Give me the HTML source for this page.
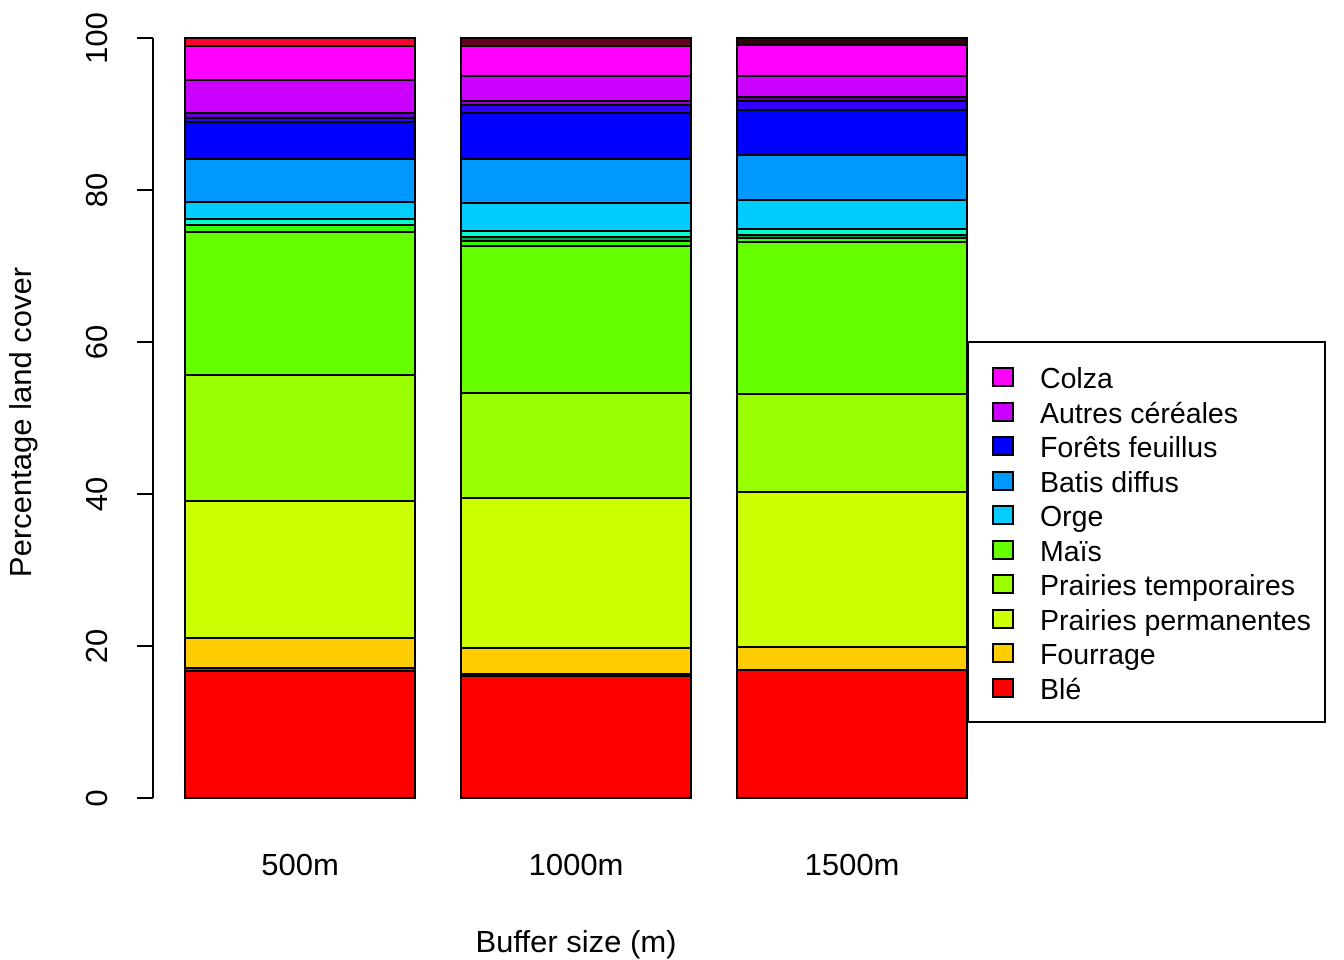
<!DOCTYPE html>
<html><head><meta charset="utf-8"><style>body{margin:0;background:#fff}svg{display:block}text{font-family:"Liberation Sans",sans-serif;fill:#000}</style></head><body>
<svg width="1344" height="960" viewBox="0 0 1344 960" xmlns="http://www.w3.org/2000/svg">
<g stroke="#000" stroke-width="2">
<rect x="185" y="38" width="230" height="8" fill="#FF0033"/>
<rect x="185" y="46" width="230" height="34" fill="#FF00FF"/>
<rect x="185" y="80" width="230" height="33" fill="#CC00FF"/>
<rect x="185" y="113" width="230" height="5" fill="#6600CC"/>
<rect x="185" y="118" width="230" height="4" fill="#3300FF"/>
<rect x="185" y="122" width="230" height="37" fill="#0000FF"/>
<rect x="185" y="159" width="230" height="43" fill="#0099FF"/>
<rect x="185" y="202" width="230" height="17" fill="#00CCFF"/>
<rect x="185" y="219" width="230" height="6" fill="#00FFCC"/>
<rect x="185" y="225" width="230" height="7" fill="#33FF00"/>
<rect x="185" y="232" width="230" height="143" fill="#66FF00"/>
<rect x="185" y="375" width="230" height="126" fill="#99FF00"/>
<rect x="185" y="501" width="230" height="137" fill="#CCFF00"/>
<rect x="185" y="638" width="230" height="30" fill="#FFCC00"/>
<rect x="185" y="668" width="230" height="3" fill="#CC3300"/>
<rect x="185" y="671" width="230" height="127" fill="#FF0000"/>
<rect x="461" y="38" width="230" height="8" fill="#660022"/>
<rect x="461" y="46" width="230" height="30" fill="#FF00FF"/>
<rect x="461" y="76" width="230" height="25" fill="#CC00FF"/>
<rect x="461" y="101" width="230" height="4" fill="#9900CC"/>
<rect x="461" y="105" width="230" height="8" fill="#3300FF"/>
<rect x="461" y="113" width="230" height="46" fill="#0000FF"/>
<rect x="461" y="159" width="230" height="44" fill="#0099FF"/>
<rect x="461" y="203" width="230" height="28" fill="#00CCFF"/>
<rect x="461" y="231" width="230" height="6" fill="#00FFCC"/>
<rect x="461" y="237" width="230" height="4" fill="#00AA55"/>
<rect x="461" y="241" width="230" height="5" fill="#33FF00"/>
<rect x="461" y="246" width="230" height="147" fill="#66FF00"/>
<rect x="461" y="393" width="230" height="105" fill="#99FF00"/>
<rect x="461" y="498" width="230" height="150" fill="#CCFF00"/>
<rect x="461" y="648" width="230" height="26" fill="#FFCC00"/>
<rect x="461" y="674" width="230" height="2" fill="#660000"/>
<rect x="461" y="676" width="230" height="122" fill="#FF0000"/>
<rect x="737" y="38" width="230" height="7" fill="#330011"/>
<rect x="737" y="45" width="230" height="31" fill="#FF00FF"/>
<rect x="737" y="76" width="230" height="21" fill="#CC00FF"/>
<rect x="737" y="97" width="230" height="4" fill="#660099"/>
<rect x="737" y="101" width="230" height="9" fill="#3300FF"/>
<rect x="737" y="110" width="230" height="45" fill="#0000FF"/>
<rect x="737" y="155" width="230" height="45" fill="#0099FF"/>
<rect x="737" y="200" width="230" height="29" fill="#00CCFF"/>
<rect x="737" y="229" width="230" height="6" fill="#00FFCC"/>
<rect x="737" y="235" width="230" height="3" fill="#00AA55"/>
<rect x="737" y="238" width="230" height="4" fill="#33FF00"/>
<rect x="737" y="242" width="230" height="152" fill="#66FF00"/>
<rect x="737" y="394" width="230" height="98" fill="#99FF00"/>
<rect x="737" y="492" width="230" height="155" fill="#CCFF00"/>
<rect x="737" y="647" width="230" height="23" fill="#FFCC00"/>
<rect x="737" y="670" width="230" height="128" fill="#FF0000"/>
</g>
<g stroke="#000" stroke-width="2" fill="none">
<line x1="153" y1="38" x2="153" y2="798"/>
<line x1="137" y1="798" x2="153" y2="798"/>
<line x1="137" y1="646" x2="153" y2="646"/>
<line x1="137" y1="494" x2="153" y2="494"/>
<line x1="137" y1="342" x2="153" y2="342"/>
<line x1="137" y1="190" x2="153" y2="190"/>
<line x1="137" y1="38" x2="153" y2="38"/>
</g>
<g font-size="31" text-anchor="middle">
<text transform="translate(107,798) rotate(-90)">0</text>
<text transform="translate(107,646) rotate(-90)">20</text>
<text transform="translate(107,494) rotate(-90)">40</text>
<text transform="translate(107,342) rotate(-90)">60</text>
<text transform="translate(107,190) rotate(-90)">80</text>
<text transform="translate(107,38) rotate(-90)">100</text>
<text transform="translate(31,422) rotate(-90)">Percentage land cover</text>
<text x="300" y="875">500m</text>
<text x="576" y="875">1000m</text>
<text x="852" y="875">1500m</text>
<text x="576" y="952">Buffer size (m)</text>
</g>
<rect x="968" y="342" width="357" height="380" fill="#fff" stroke="#000" stroke-width="2"/>
<g stroke="#000" stroke-width="2">
<rect x="993" y="368" width="20" height="18" fill="#FF00FF"/>
<rect x="993" y="403" width="20" height="18" fill="#CC00FF"/>
<rect x="993" y="437" width="20" height="18" fill="#0000FF"/>
<rect x="993" y="472" width="20" height="18" fill="#0099FF"/>
<rect x="993" y="506" width="20" height="18" fill="#00CCFF"/>
<rect x="993" y="541" width="20" height="18" fill="#66FF00"/>
<rect x="993" y="575" width="20" height="18" fill="#99FF00"/>
<rect x="993" y="610" width="20" height="18" fill="#CCFF00"/>
<rect x="993" y="644" width="20" height="18" fill="#FFCC00"/>
<rect x="993" y="679" width="20" height="18" fill="#FF0000"/>
</g>
<g font-size="28.5">
<text x="1040" y="388">Colza</text>
<text x="1040" y="423">Autres céréales</text>
<text x="1040" y="457">Forêts feuillus</text>
<text x="1040" y="492">Batis diffus</text>
<text x="1040" y="526">Orge</text>
<text x="1040" y="561">Maïs</text>
<text x="1040" y="595">Prairies temporaires</text>
<text x="1040" y="630">Prairies permanentes</text>
<text x="1040" y="664">Fourrage</text>
<text x="1040" y="699">Blé</text>
</g>
</svg>
</body></html>
